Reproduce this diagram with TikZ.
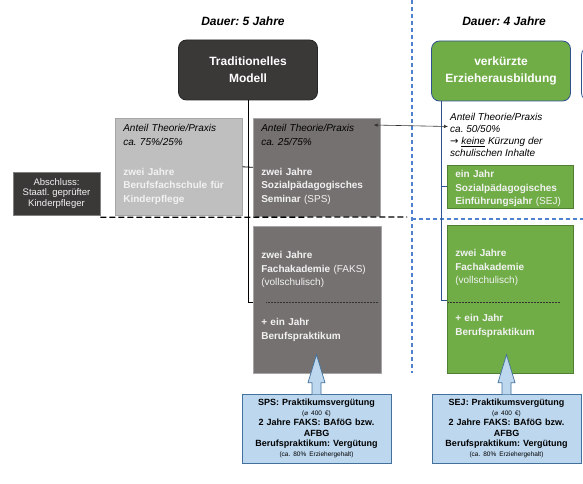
\documentclass[tikz,border=0pt]{standalone}
\usepackage{fontspec}
\setmainfont{Liberation Sans}
\newfontfamily\symbfont{DejaVu Sans}
\usetikzlibrary{positioning,arrows.meta}
\frenchspacing

\definecolor{darkbox}{HTML}{3B3838}
\definecolor{lightgr}{HTML}{BFBFBF}
\definecolor{midgr}{HTML}{767171}
\definecolor{grborder}{HTML}{A6A6A6}
\definecolor{grn}{HTML}{70AD47}
\definecolor{grnborder}{HTML}{507E32}
\definecolor{navy}{HTML}{2F528F}
\definecolor{infofill}{HTML}{BDD7EE}
\definecolor{infoborder}{HTML}{41719C}
\definecolor{divblue}{HTML}{4F81D0}
\definecolor{paletext}{HTML}{F2F2F2}

\tikzset{
  headbox/.style={draw=#1, rounded corners=8pt, line width=0.8pt,
    minimum width=139pt, minimum height=60pt, align=center, text=white,
    font=\bfseries\fontsize{12}{17}\selectfont},
  stagebox/.style={draw=grborder, line width=0.6pt, anchor=north west,
    inner xsep=8pt, inner ysep=0pt, align=left, text=paletext,
    font=\fontsize{10}{13.5}\selectfont},
  infobox/.style={fill=infofill, draw=infoborder, line width=0.7pt,
    minimum width=149pt, minimum height=69pt, text width=145pt, inner sep=2pt,
    align=center, font=\fontsize{9}{10.3}\selectfont},
  divider/.style={divblue, line width=1.6pt, dash pattern=on 4pt off 3pt},
  yeardash/.style={black, line width=1.3pt, dash pattern=on 6pt off 3pt},
  link/.style={line width=0.8pt},
  sep/.style={black!80, line width=0.6pt, dash pattern=on 1pt off 0.5pt}
}
% small print in the funding boxes
\newcommand\fine[1]{{\fontsize{6.5}{10.3}\selectfont #1}}
% pointer of a callout box
\newcommand\pointer[1]{%
  \filldraw[fill=infofill, draw=infoborder, line width=0.7pt]
    ([shift={(-4.5,0.6)}]#1.north) -- ++(0,-11.6) -- ++(-4,0)
    -- ([shift={(0,-39)}]#1.north) -- ([shift={(8.5,-11)}]#1.north)
    -- ++(-4,0) -- ++(0,11.6);}

\begin{document}
\begin{tikzpicture}[x=1pt,y=-1pt]
\useasboundingbox (0,0) rectangle (583,484);

% column titles
\node[font=\bfseries\itshape\fontsize{12}{14}\selectfont] (dur5) at (243,21) {Dauer: 5 Jahre};
\node[font=\bfseries\itshape\fontsize{12}{14}\selectfont] (dur4) at (504,21) {Dauer: 4 Jahre};

% divider lines
\coordinate (divtop) at (412,0);
\coordinate (divbot) at (412,373);
\coordinate (divright) at (583,219);
\coordinate (yearend) at (407,217);
\draw[divider] (divtop) -- (divbot);
\draw[divider] (divtop |- divright) -- (divright);

% traditional model
\node[headbox=black!85, fill=darkbox] (trad) at (248,70) {Traditionelles\\Modell};
\node[stagebox, fill=lightgr, text width=111pt, text height=13.5pt, text depth=83.5pt] (bfs) at (115,118)
  {{\color{black}\itshape Anteil Theorie/Praxis\\ ca. 75\%/25\%}\\[16.5pt]
   \textbf{zwei Jahre}\\ \textbf{Berufsfachschule für}\\ \textbf{Kinderpflege}};
\node[stagebox, fill=midgr, text width=111pt, text height=13.5pt, text depth=84.5pt] (sps) at (253,118)
  {{\color{black}\itshape Anteil Theorie/Praxis\\ ca. 25/75\%}\\[16.5pt]
   \textbf{zwei Jahre}\\ \textbf{Sozialpädagogisches}\\ \textbf{Seminar} (SPS)};
\node[stagebox, fill=midgr, text width=112pt, text height=32.5pt, text depth=114.5pt] (faks) at (253,226)
  {\textbf{zwei Jahre}\\ \textbf{Fachakademie} (FAKS)\\ (vollschulisch)\\[26.5pt]
   \textbf{+ ein Jahr}\\ \textbf{Berufspraktikum}};
\node[fill=darkbox, draw=black!50, line width=0.6pt, minimum width=87pt, minimum height=43pt,
  inner sep=1pt, align=center, text=paletext, font=\fontsize{9.5}{10.5}\selectfont] (absch) at (56.5,193.5)
  {Abschluss:\\ Staatl. geprüfter\\ Kinderpfleger};
\draw[sep] ([shift={(13,76)}]faks.north west) -- ([shift={(-4,76)}]faks.north east);

\draw[link] (bfs.east) -- (sps.west);
\draw[link] (trad.south) |- ([yshift=-2.5pt]faks.west);
\draw[yeardash] ([yshift=-2pt]absch.south east) -- (yearend);

% shortened training
\node[headbox=navy, fill=grn] (kurz) at (501,71) {verkürzte\\Erzieherausbildung};
\draw[navy, rounded corners=8pt, line width=0.8pt] (581.5,47) rectangle (660,101);
\node[anchor=north west, inner sep=2pt, align=left, font=\itshape\fontsize{10}{12}\selectfont] (ratio) at (448,111.5)
  {Anteil Theorie/Praxis\\ ca. 50/50\%\\ {\upshape\symbfont\fontsize{10}{12}\selectfont →} \underline{keine} Kürzung der\\ schulischen Inhalte};
\node[stagebox, fill=grn, draw=grnborder, text width=110pt, text height=12.5pt, text depth=30.5pt] (sej) at (447,165)
  {\textbf{ein Jahr}\\ \textbf{Sozialpädagogisches}\\ \textbf{Einführungsjahr} (SEJ)};
\node[stagebox, fill=grn, draw=grnborder, text width=110pt, text height=31.5pt, text depth=116.5pt] (fakg) at (447,225)
  {\textbf{zwei Jahre}\\ \textbf{Fachakademie}\\ (vollschulisch)\\[24.5pt]
   \textbf{+ ein Jahr}\\ \textbf{Berufspraktikum}};
\draw[sep] ([shift={(1,77)}]fakg.north west) -- ([shift={(113,77)}]fakg.north west);

\coordinate (brk) at ([xshift=10pt]kurz.south west);
\draw[navy, line width=0.9pt] (brk) |- ([yshift=-1pt]fakg.west);
\draw[navy, line width=0.9pt] (brk |- sej.west) -- (sej.west);

\draw[black!80, line width=0.6pt, {Latex[length=4pt,width=3.5pt]}-{Latex[length=4pt,width=3.5pt]}]
  ([shift={(-7,7)}]sps.north east) -- ([yshift=-15pt]ratio.north west);

% funding
\node[infobox] (pay1) at (316.5,428.5)
  {\textbf{SPS: Praktikumsvergütung}\\ \fine{({\symbfont ⌀} 400 €)}\\
   \textbf{2 Jahre FAKS: BAföG bzw.}\\ \textbf{AFBG}\\ \textbf{Berufspraktikum: Vergütung}\\
   \fine{(ca. 80\% Erziehergehalt)}};
\node[infobox] (pay2) at (506.5,428.5)
  {\textbf{SEJ: Praktikumsvergütung}\\ \fine{({\symbfont ⌀} 400 €)}\\
   \textbf{2 Jahre FAKS: BAföG bzw.}\\ \textbf{AFBG}\\ \textbf{Berufspraktikum: Vergütung}\\
   \fine{(ca. 80\% Erziehergehalt)}};
\pointer{pay1}
\pointer{pay2}
\end{tikzpicture}
\end{document}
